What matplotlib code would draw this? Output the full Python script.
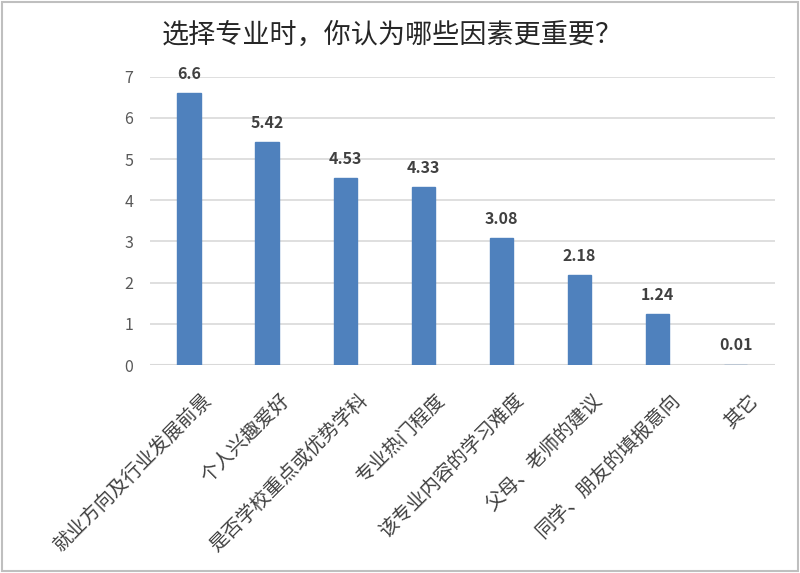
import matplotlib
matplotlib.use("Agg")
import matplotlib.pyplot as plt
from matplotlib.patches import Rectangle
import matplotlib.transforms as mtransforms

plt.rcParams['font.family'] = ['Noto Sans CJK SC', 'DejaVu Sans']

title = "选择专业时，你认为哪些因素更重要？"
categories = ["就业方向及行业发展前景", "个人兴趣爱好", "是否学校重点或优势学科", "专业热门程度",
              "该专业内容的学习难度", "父母、老师的建议", "同学、朋友的填报意向", "其它"]
values = [6.6, 5.42, 4.53, 4.33, 3.08, 2.18, 1.24, 0.01]
value_labels = ["6.6", "5.42", "4.53", "4.33", "3.08", "2.18", "1.24", "0.01"]
yticks = [0, 1, 2, 3, 4, 5, 6, 7]

fig = plt.figure(figsize=(8, 5.73), dpi=100)
ax = fig.add_axes([0.1875, 0.363, 0.781, 0.503])
x = list(range(len(categories)))
ax.bar(x, values, width=0.30, color="#4F81BD", edgecolor="#4F81BD", linewidth=1.0, zorder=3)
ax.set_xlim(-0.5, len(categories) - 0.5)
ax.set_ylim(0, 7)
ax.set_yticks(yticks)
ax.set_yticklabels([str(t) for t in yticks], fontsize=11.5, color="#595959")
ax.yaxis.grid(True, color="#d9d9d9", linewidth=1.2, zorder=0)
ax.set_axisbelow(True)
for s in ax.spines.values():
    s.set_visible(False)
ax.tick_params(axis='y', length=0, pad=12)
ax.tick_params(axis='x', length=0, pad=12)
ax.axhline(0, color="#d9d9d9", linewidth=1.5, zorder=2)
ax.set_xticks(x)
ax.set_xticklabels(categories, rotation=45, ha='right', rotation_mode='anchor',
                   fontsize=14, color="#404040")
offset = mtransforms.ScaledTranslation(12 / 100, -8 / 100, fig.dpi_scale_trans)
for lab in ax.get_xticklabels():
    lab.set_transform(lab.get_transform() + offset)
for xi, v, lab in zip(x, values, value_labels):
    ax.annotate(lab, (xi, v), xytext=(0, 8), textcoords='offset points',
                ha='center', va='bottom', fontsize=11.5, fontweight='bold', color="#404040")

fig.text(0.49, 0.939, title, ha='center', va='center', fontsize=19.5, color="#262626")
fig.patches.append(Rectangle((0.002, 0.003), 0.996, 0.994, transform=fig.transFigure,
                             fill=False, edgecolor="#bfbfbf", linewidth=1.5))
fig.savefig("out.png", dpi=100)
